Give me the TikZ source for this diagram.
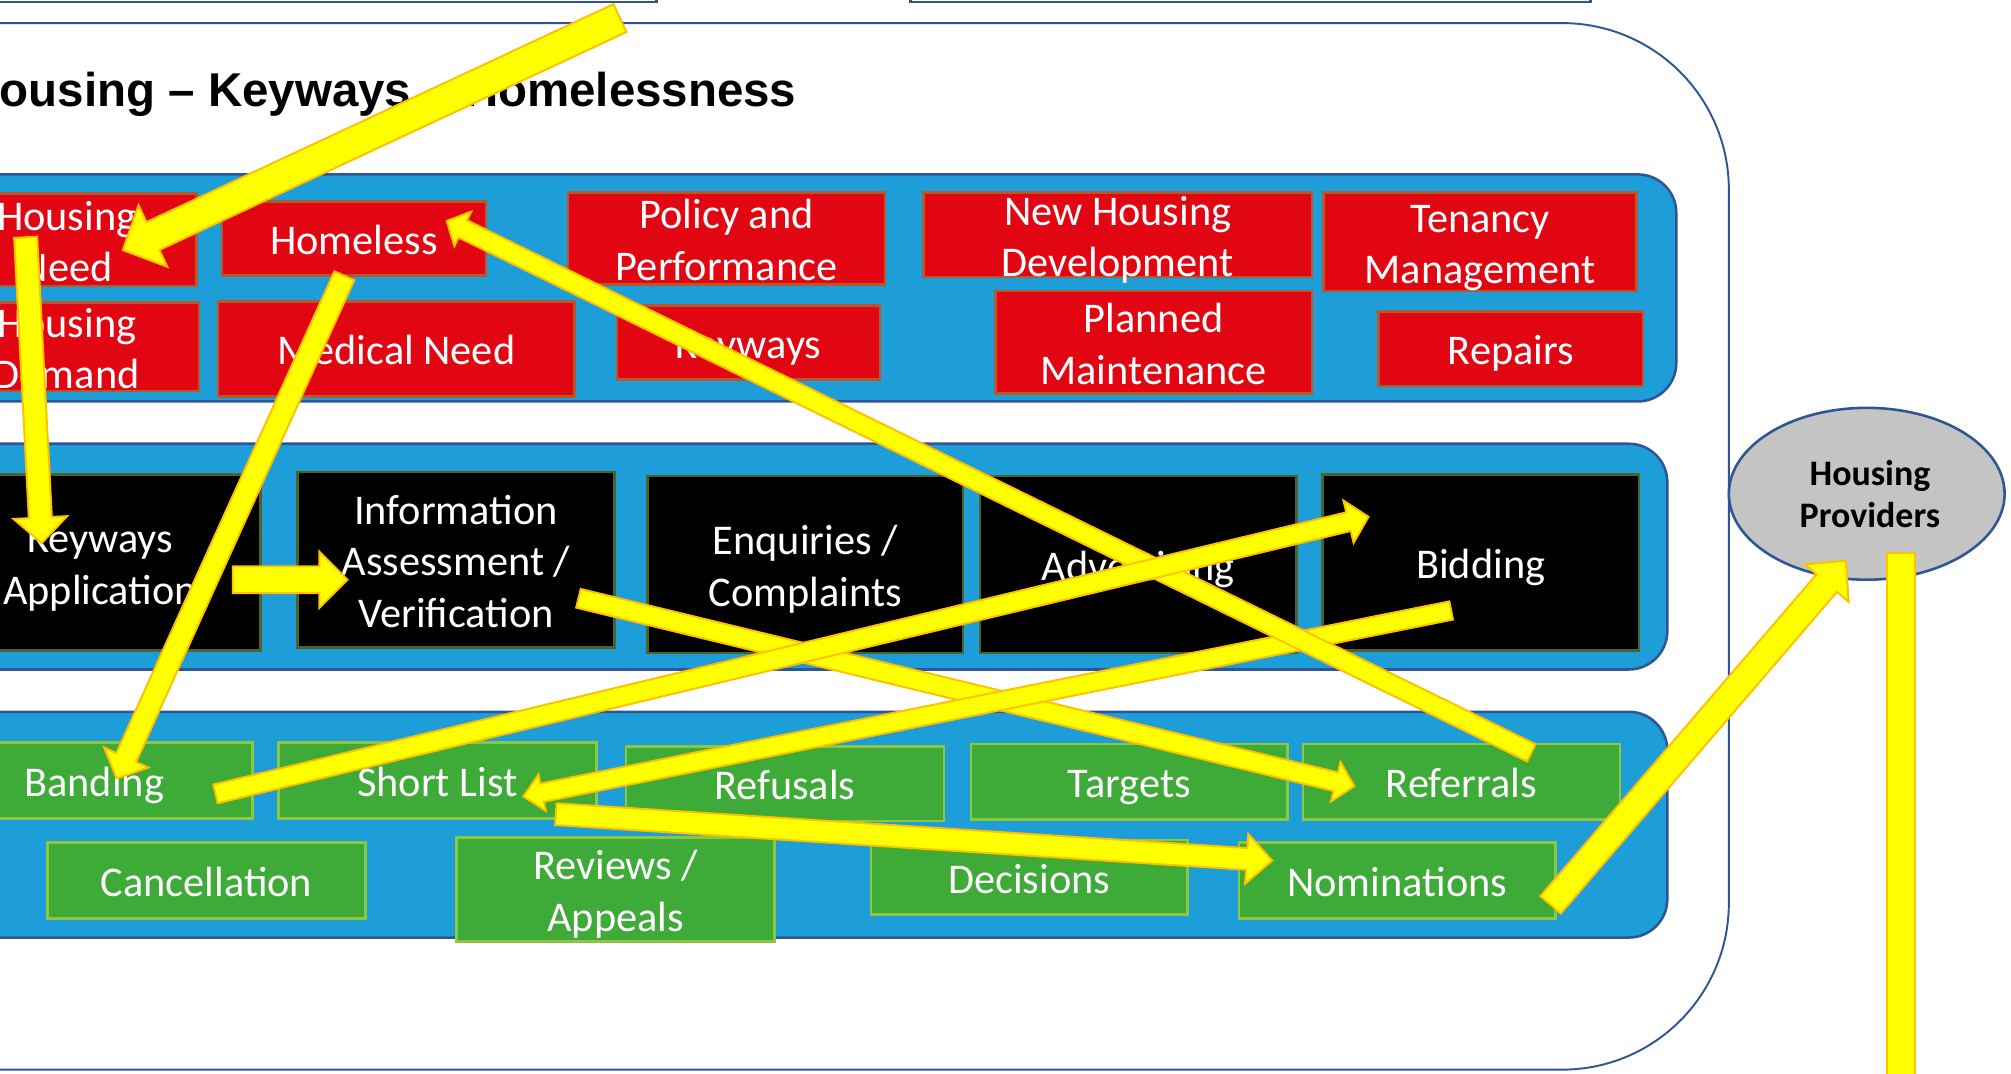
\documentclass[tikz,border=0pt]{standalone}
\usepackage{fontspec}
\setmainfont{Carlito}
\newfontfamily\titlefont{Liberation Sans}
\usetikzlibrary{calc,shapes.geometric}
\definecolor{bandblue}{HTML}{1E9ED9}
\definecolor{edgeblue}{HTML}{2F5597}
\definecolor{boxred}{HTML}{E20613}
\definecolor{redline}{HTML}{B4592B}
\definecolor{boxgreen}{HTML}{3EAA38}
\definecolor{greenline}{HTML}{8DC63F}
\definecolor{blackline}{HTML}{4F6228}
\definecolor{arrowfill}{HTML}{FFFF00}
\definecolor{arrowline}{HTML}{FFC000}
\definecolor{provgrey}{HTML}{C4C4C4}
\tikzset{
 band/.style={fill=bandblue, draw=edgeblue, line width=2pt, rounded corners=30pt},
 redbox/.style={rectangle, fill=boxred, draw=redline, line width=2pt, inner sep=0},
 blackbox/.style={rectangle, fill=black, draw=blackline, line width=2pt, inner sep=0},
 greenbox/.style={rectangle, fill=boxgreen, draw=greenline, line width=2pt, inner sep=0},
 lbl/.style={text=white, align=center, inner sep=0, font=\fontsize{33}{40}\selectfont},
 yarrow/.style={fill=arrowfill, draw=arrowline, line width=1.5pt, line join=miter},
 frameline/.style={draw=edgeblue, line width=1.5pt, fill=white},
}
\newcommand\tstrut{\rule{0pt}{25pt}}
\newcommand\bstrut{\rule[-7pt]{0pt}{7pt}}
% box: style, name, cx, cy, w, h, text
\newcommand\bx[7]{%
 \node[#1, minimum width=#5pt, minimum height=#6pt] (#2) at (#3,#4) {};
 \node[lbl] (#2-t) at ($(#2.center)+(0,3.5)$) {\tstrut#7\bstrut};
}
% block arrow: tail, tip, half shaft width, half head width, head length
\newcommand\blockarrow[5]{%
 \coordinate (bah) at ($(#2)!#5pt!(#1)$);
 \draw[yarrow] ($(#1)!#3pt!90:(#2)$) -- ($(bah)!#3pt!90:(#2)$) -- ($(bah)!#4pt!90:(#2)$)
   -- (#2) -- ($(bah)!#4pt!-90:(#2)$) -- ($(bah)!#3pt!-90:(#2)$) -- ($(#1)!#3pt!-90:(#2)$) -- cycle;
}
\begin{document}
\begin{tikzpicture}[x=1pt,y=-1pt]
\useasboundingbox (0,0) rectangle (1568,837.4);
\clip (0,0) rectangle (1568,837.4);
\fill[white] (0,0) rectangle (1568,837.4);
% boxes cut by the top edge
\draw[frameline, line width=2pt] (-10,-40) rectangle (512,1.5);
\draw[frameline, line width=2pt] (710,-40) rectangle (1240,1.5);
% outer frame
\filldraw[frameline, rounded corners=130pt] (-60,834) -- (1348,834) -- (1348,18) -- (-60,18);
% title
\node[anchor=base west, inner sep=0, font=\titlefont\bfseries\fontsize{37}{44}\selectfont] (title) at (-27,83) {Housing – Keyways – Homelessness};
% bands
\draw[band] (-40,136) rectangle (1307,313);
\draw[band] (-40,346) rectangle (1300,522);
\draw[band] (-40,555) rectangle (1300,731);
% red boxes
\bx{redbox}{hneed}{52}{187}{202}{72}{Housing\\Need}
\bx{redbox}{homeless}{276}{186}{206}{58}{Homeless}
\bx{redbox}{policy}{566.5}{186}{247}{72}{Policy and\\Performance}
\bx{redbox}{newhouse}{871.5}{183}{303}{66}{New Housing\\Development}
\bx{redbox}{tenancy}{1154}{188.5}{244}{77}{Tenancy\\Management}
\bx{redbox}{hdemand}{52}{270.5}{206}{69}{Housing\\Demand}
\bx{redbox}{medical}{309}{272}{278}{74}{Medical Need}
\bx{redbox}{keyways}{583.5}{267}{205}{58}{Keyways}
\bx{redbox}{planned}{899.5}{267}{247}{80}{Planned\\Maintenance}
\bx{redbox}{repairs}{1178}{272}{206}{58}{Repairs}
% black boxes
\bx{blackbox}{kapp}{78}{438.5}{250}{137}{Keyways\\Application}
\bx{blackbox}{info}{355.5}{436.5}{247}{137}{Information\\Assessment /\\Verification}
\bx{blackbox}{enq}{628}{440}{246}{138}{Enquiries /\\Complaints}
\bx{blackbox}{adv}{887.5}{440}{247}{138}{Advertising}
\bx{blackbox}{bid}{1154.5}{438.5}{247}{137}{Bidding}
% green boxes
\bx{greenbox}{banding}{73.5}{608.5}{247}{59}{Banding}
\bx{greenbox}{short}{341}{608.5}{248}{59}{Short List}
\bx{greenbox}{refusals}{612}{611}{248}{58}{Refusals}
\bx{greenbox}{targets}{880.5}{609.5}{247}{59}{Targets}
\bx{greenbox}{referrals}{1139.5}{609.5}{247}{59}{Referrals}
\bx{greenbox}{cancel}{161}{686.5}{248}{59}{Cancellation}
\bx{greenbox}{reviews}{480}{693.5}{248}{81}{Reviews /\\Appeals}
\bx{greenbox}{decisions}{802.5}{684}{247}{58}{Decisions}
\bx{greenbox}{nomin}{1089.5}{686.5}{247}{59}{Nominations}
% housing providers
\node[ellipse, minimum width=215pt, minimum height=134pt, fill=provgrey, draw=edgeblue, line width=2pt, inner sep=0] (prov) at (1455.5,385) {};
\node[align=center, inner sep=0, font=\bfseries\fontsize{28}{33}\selectfont] (prov-t) at (1458,385) {Housing\\Providers};
% arrow end points
\coordinate (a1s) at (483.4,14.1);   \coordinate (a1e) at (95.7,195);
\coordinate (a2s) at (20,185);       \coordinate (a2e) at (32.5,423.5);
\coordinate (a3s) at (181.5,452);    \coordinate (a3e) at (271,452);
\coordinate (a4s) at (268.5,215);    \coordinate (a4e) at (91,607);
\coordinate (a5s) at (1194,587);     \coordinate (a5e) at (348.3,172.3);
\coordinate (a6s) at (168,619);      \coordinate (a6e) at (1067,403);
\coordinate (a7s) at (451,466.5);    \coordinate (a7e) at (1056,613);
\coordinate (a8s) at (1131.5,476);   \coordinate (a8e) at (408,621);
\coordinate (a9s) at (433.4,634.8);  \coordinate (a9e) at (992,671);
\coordinate (a10s) at (1209,705.5);  \coordinate (a10e) at (1439.3,437.2);
\coordinate (a11s) at (1482,431);    \coordinate (a11e) at (1482,870);
% arrows
\blockarrow{a4s}{a4e}{8.5}{19}{18}
\blockarrow{a2s}{a2e}{9}{21}{20}
\blockarrow{a3s}{a3e}{10.5}{22}{22}
\blockarrow{a7s}{a7e}{7.5}{16}{15}
\blockarrow{a8s}{a8e}{7.25}{14.5}{15}
\blockarrow{a5s}{a5e}{7.5}{15}{14}
\blockarrow{a6s}{a6e}{7.5}{17}{16}
\blockarrow{a9s}{a9e}{8.5}{19.5}{20}
\blockarrow{a10s}{a10e}{10.5}{22.5}{23}
\draw[yarrow] ($(a11s)+(-11,0)$) rectangle ($(a11e)+(11,0)$);
\blockarrow{a1s}{a1e}{12}{26.5}{26}
\end{tikzpicture}
\end{document}
